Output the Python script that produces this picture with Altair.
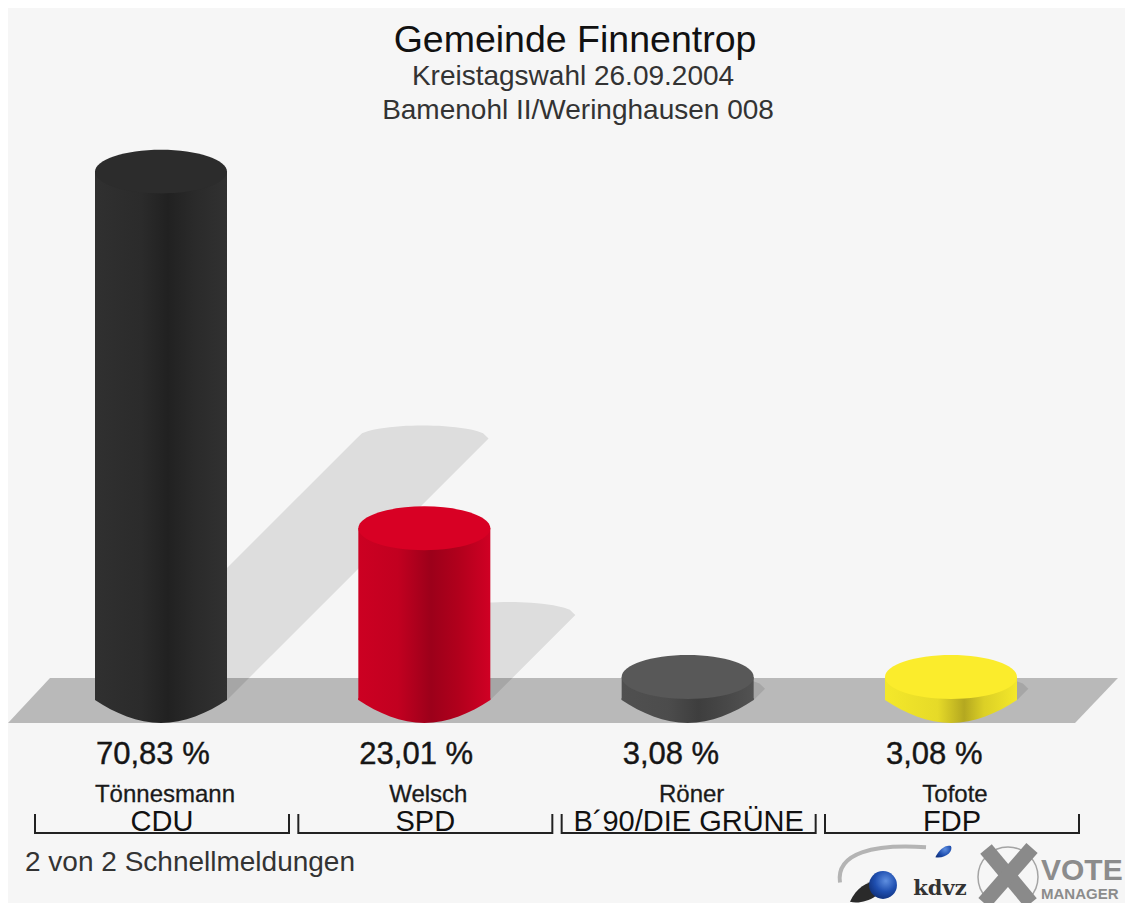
import altair as alt
import pandas as pd

# ---- values
candidates = ["Tönnesmann", "Welsch", "Röner", "Tofote"]
parties = ["CDU", "SPD", "B´90/DIE GRÜNE", "FDP"]
shares = [70.83, 23.01, 3.08, 3.08]
share_labels = ["70,83 %", "23,01 %", "3,08 %", "3,08 %"]
titles = ["Gemeinde Finnentrop", "Kreistagswahl 26.09.2004", "Bamenohl II/Weringhausen 008"]
footer = "2 von 2 Schnellmeldungen"

# ---- styles
W, H = 1117, 895
PX_X = 263.33      # px per category step
PX_Y = 7.46        # px per percentage point
X0, Y0 = 161 - 8, 700 - 8
x_dom = [-X0 / PX_X, (W - X0) / PX_X]
y_dom = [-(H - Y0) / PX_Y, Y0 / PX_Y]
HALF = 66 / PX_X
XS = alt.Scale(domain=x_dom, nice=False, zero=False)
YS = alt.Scale(domain=y_dom, nice=False, zero=False)
FONT = "Liberation Sans"

def X(f="x"):
    return alt.X(f"{f}:Q", scale=XS, axis=None)

def Y(f="y"):
    return alt.Y(f"{f}:Q", scale=YS, axis=None)

def grad(stops):
    return alt.Gradient(
        gradient="linear", x1=0, x2=1, y1=0, y2=0,
        stops=[alt.GradientStop(color=c, offset=o) for o, c in stops],
    )

body_stops = [
    [(0, "#303030"), (0.35, "#2b2b2b"), (0.55, "#212121"), (0.75, "#2a2a2a"), (1, "#313131")],
    [(0, "#cc0022"), (0.3, "#c20020"), (0.55, "#9c001a"), (0.75, "#b0001c"), (1, "#d00024")],
    [(0, "#505050"), (0.35, "#4c4c4c"), (0.58, "#3e3e3e"), (0.8, "#484848"), (1, "#525252")],
    [(0, "#f4e82a"), (0.4, "#e6da28"), (0.6, "#b4a820"), (0.75, "#dcd026"), (1, "#f4e82a")],
]
top_colors = ["#2c2c2c", "#d80024", "#585858", "#fbec2c"]

TOP = "M-1,0 A1,0.333 0 1,1 1,0 A1,0.333 0 1,1 -1,0 Z"
BOTTOM = "M-1,-0.03 L1,-0.03 L1,0 C0.7,0.2 0.35,0.348 0,0.348 C-0.35,0.348 -0.7,0.2 -1,0 Z"
SIZE = 132 ** 2

layers = []

# floor
floor_x = [-0.581, -0.4215, 3.471, 3.634]
floor_lo = [-3.08, -3.08, -3.08, 2.95]
floor_hi = [-3.08, 2.95, 2.95, 2.95]
layers.append(
    alt.Chart(pd.DataFrame({"x": floor_x, "lo": floor_lo, "hi": floor_hi}))
    .mark_area(color="#b9b9b9", orient="vertical", opacity=1)
    .encode(x=X(), y=Y("lo"), y2="hi:Q")
)

# cast shadows
SHADE = 0.495
def shadow(i, v):
    ht = SHADE * v
    dx = ht * PX_Y / PX_X
    ry = 13 / PX_Y
    l, r = i - HALF, i + HALF
    n = 24
    arc = [l + dx + (2 * HALF) * k / n for k in range(n + 1)]
    xs = sorted(set([l, r] + arc))
    rows = []
    for x in xs:
        lo = max(0.0, min(ht, (x - r) / dx * ht))
        hi = max(0.0, min(ht, (x - l) / dx * ht))
        if l + dx <= x <= r + dx:
            t = (x - (l + dx + HALF)) / HALF
            hi = ht + ry * max(0.0, 1 - t * t) ** 0.5
        rows.append({"x": x, "lo": lo, "hi": hi})
    return pd.DataFrame(rows)

for i, v in enumerate(shares):
    layers.append(
        alt.Chart(shadow(i, v))
        .mark_area(color="#000000", opacity=0.1, orient="vertical")
        .encode(x=X(), y=Y("lo"), y2="hi:Q")
    )

# cylinders
for i, v in enumerate(shares):
    d = pd.DataFrame({"x": [i - HALF], "x2": [i + HALF], "c": [i], "y": [v], "y0": [0.0]})
    g = grad(body_stops[i])
    base = alt.Chart(d)
    layers.append(base.mark_rect(fill=g).encode(x=X(), x2="x2:Q", y=Y(), y2="y0:Q"))
    layers.append(
        base.mark_point(shape=BOTTOM, size=SIZE, filled=True, fill=g, opacity=1, strokeWidth=0)
        .encode(x=X("c"), y=Y("y0"))
    )
    layers.append(
        base.mark_point(shape=TOP, size=SIZE, filled=True, fill=top_colors[i], opacity=1, strokeWidth=0)
        .encode(x=X("c"), y=Y())
    )

# share labels (left aligned with the bar edge)
lab = pd.DataFrame({"x": [i - HALF + 1 / PX_X for i in range(4)], "t": share_labels,
                    "c": [i + 4 / PX_X for i in range(4)], "p": [i + 1 / PX_X for i in range(4)],
                    "name": candidates, "party": parties})
layers.append(
    alt.Chart(lab).mark_text(font=FONT, fontSize=31, align="left", baseline="alphabetic",
                             color="#151515", stroke="#151515", strokeWidth=0.4)
    .encode(x=X(), y=alt.value(764 - 8), text="t:N")
)
layers.append(
    alt.Chart(lab).mark_text(font=FONT, fontSize=24, align="center", baseline="alphabetic",
                             color="#1a1a1a", stroke="#1a1a1a", strokeWidth=0.3)
    .encode(x=X("c"), y=alt.value(802 - 8), text="name:N")
)
layers.append(
    alt.Chart(lab).mark_text(font=FONT, fontSize=29, align="center", baseline="alphabetic",
                             color="#111111")
    .encode(x=X("p"), y=alt.value(831 - 8), text="party:N")
)

# brackets
br = pd.DataFrame({"l": [i - 127 / PX_X + 1 / PX_X for i in range(4)],
                   "r": [i + 127 / PX_X + 1 / PX_X for i in range(4)]})
rule = dict(color="#222222", strokeWidth=2)
layers.append(alt.Chart(br).mark_rule(**rule).encode(x=X("l"), x2="r:Q", y=alt.value(833 - 8)))
for f in ["l", "r"]:
    layers.append(alt.Chart(br).mark_rule(**rule).encode(x=X(f), y=alt.value(814 - 8), y2=alt.value(834 - 8)))

# titles and footer
def text(t, x, y, size, color="#111111", align="center", **kw):
    return alt.Chart(pd.DataFrame({"t": [t]})).mark_text(
        font=kw.pop("font", FONT), fontSize=size, align=align, baseline="alphabetic", color=color, **kw
    ).encode(x=alt.value(x - 8), y=alt.value(y - 8), text="t:N")

layers.append(text(titles[0], 575, 52, 37.5))
layers.append(text(titles[1], 573, 85, 28, "#333333"))
layers.append(text(titles[2], 578, 119, 28, "#333333"))
layers.append(text(footer, 25, 871, 28, "#333333", align="left"))

# logo marks
def sym(x, y, shape, size, fill):
    return alt.Chart(pd.DataFrame({"a": [1]})).mark_point(
        shape=shape, size=size, filled=True, fill=fill, opacity=1, strokeWidth=0
    ).encode(x=alt.value(x - 8), y=alt.value(y - 8))

blue = alt.Gradient(gradient="radial", x1=0.6, y1=0.35, x2=0.6, y2=0.35, r1=0, r2=0.7,
                    stops=[alt.GradientStop(color="#5f8fe0", offset=0),
                           alt.GradientStop(color="#1f4fb0", offset=0.55),
                           alt.GradientStop(color="#0f2f78", offset=1)])
layers.append(sym(868, 891, "M-1,0.6 C-0.6,-0.3 0.2,-0.7 1,-0.5 C0.9,0.2 -0.2,0.8 -1,0.6 Z", 1300, "#2a2a2a"))
layers.append(sym(883, 885, "circle", 780, blue))
layers.append(sym(944, 853, "M-1,0.5 C-0.6,-0.4 0.2,-1 0.8,-0.8 C1.1,-0.2 0.2,0.7 -1,0.5 Z", 300, blue))
layers.append(alt.Chart(pd.DataFrame({"a": [1]})).mark_point(
    shape="M-1,0.5 C-1.1,-0.2 -0.2,-0.4 1,-0.32", size=7400, filled=False, stroke="#b4b4b4",
    strokeWidth=4, opacity=1).encode(x=alt.value(883 - 8), y=alt.value(861 - 8)))
layers.append(text("kdvz", 940, 895, 21, "#333333", font="DejaVu Serif", fontWeight="bold"))
layers.append(alt.Chart(pd.DataFrame({"a": [1]})).mark_point(
    shape="circle", size=3600, filled=False, stroke="#a4a4a4", strokeWidth=1.5, opacity=1
).encode(x=alt.value(1008 - 8), y=alt.value(877 - 8)))
layers.append(alt.Chart(pd.DataFrame({"a": [1]})).mark_rule(color="#8a8a8a", strokeWidth=15)
              .encode(x=alt.value(986 - 8), x2=alt.value(1031 - 8), y=alt.value(849 - 8), y2=alt.value(903 - 8)))
layers.append(alt.Chart(pd.DataFrame({"a": [1]})).mark_rule(color="#8a8a8a", strokeWidth=15)
              .encode(x=alt.value(1032 - 8), x2=alt.value(984 - 8), y=alt.value(848 - 8), y2=alt.value(903 - 8)))
layers.append(text("VOTE", 1041, 880, 30, "#8c8c8c", align="left", fontWeight="bold"))
layers.append(text("MANAGER", 1041, 899, 15, "#8c8c8c", align="left", fontWeight="bold"))

chart = (
    alt.layer(*layers)
    .properties(width=W, height=H, padding=0, background="#f6f6f6",
                autosize=alt.AutoSizeParams(type="none"))
    .configure_view(stroke=None)
)
chart.save("out.html", embed_options={"renderer": "svg", "actions": False})
